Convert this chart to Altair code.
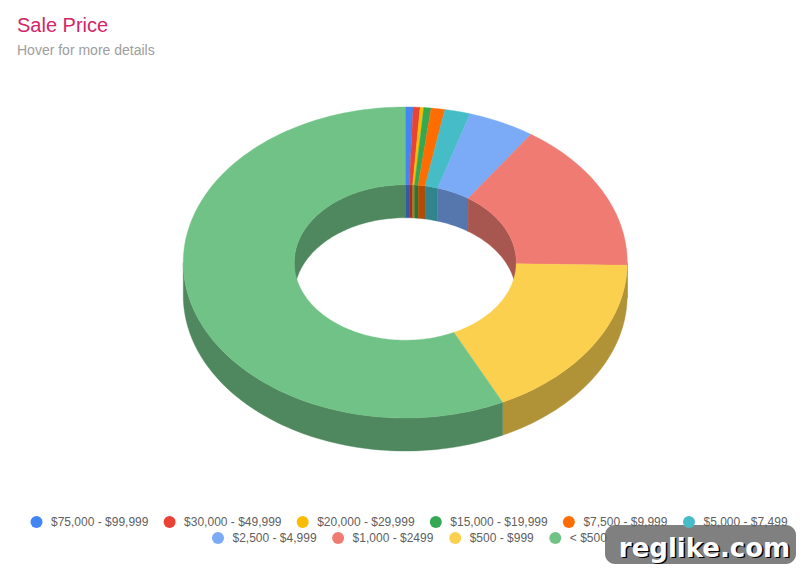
""" Sale Price 3D donut, drawn as geoshapes because arcs can only be circular """

import math

import altair as alt
import pandas as pd

CATEGORIES = [
    "$75,000 - $99,999", "$30,000 - $49,999", "$20,000 - $29,999",
    "$15,000 - $19,999", "$7,500 - $9,999", "$5,000 - $7,499",
    "$2,500 - $4,999", "$1,000 - $2499", "$500 - $999", "< $500",
]
SHARES = [0.57, 0.50, 0.26, 0.53, 1.00, 1.86, 4.86, 15.70, 17.50, 57.22]
COLORS = [
    "#4285F4", "#EA4335", "#FBBC04", "#34A853", "#FF6D01",
    "#46BDC6", "#7BAAF7", "#F07B72", "#FCD04F", "#71C287",
]
ROW_SPLIT = 6
WATERMARK = ["reglike.com"]

WIDTH = 788
HEIGHT = 496
TOP = 60
CX, CY = 397.25, 194.5
RX, RY = 222, 155.5
HOLE = 0.5
DEPTH = 33


def shade(color, factor=0.7):
    channels = [int(color[i:i + 2], 16) for i in (1, 3, 5)]
    return "#" + "".join(f"{round(c * factor):02x}" for c in channels)


def rim(start, end, radius, drop=0):
    # Points along an ellipse, clockwise from the top, in degrees
    steps = max(2, int((end - start) / 1.5) + 1)
    points = []
    for i in range(steps + 1):
        angle = math.radians(start + (end - start) * i / steps)
        points.append([
            CX + RX * radius * math.sin(angle),
            CY - RY * radius * math.cos(angle) + drop,
        ])
    return points


def feature(name, ring):
    return {
        "type": "Feature",
        "properties": {"name": name},
        "geometry": {"type": "Polygon", "coordinates": [ring + ring[:1]]},
    }


def band(name, start, end, radius_a, drop_a, radius_b, drop_b):
    return feature(name, rim(start, end, radius_a, drop_a) + rim(start, end, radius_b, drop_b)[::-1])


tops, walls = [], []
start = 0
for name, share in zip(CATEGORIES, SHARES):
    end = start + share * 3.6
    tops.append(band(name, start, end, 1, 0, HOLE, 0))
    # outer wall shows on the lower half, inner wall on the upper half
    if max(start, 90) < min(end, 270):
        walls.append(band(name, max(start, 90), min(end, 270), 1, 0, 1, DEPTH))
    if start < 90:
        walls.append(band(name, start, min(end, 90), HOLE, 0, HOLE, DEPTH))
    if end > 270:
        walls.append(band(name, max(start, 270), end, HOLE, 0, HOLE, DEPTH))
    start = end

PROJECTION = {"type": "identity", "scale": 1, "translate": [0, 0]}
wall_scale = alt.Scale(domain=CATEGORIES, range=[shade(c) for c in COLORS])

wall_layer = (
    alt.Chart(alt.Data(values=walls))
    .mark_geoshape(strokeWidth=0.4)
    .encode(
        color=alt.Color("properties.name:N", scale=wall_scale, legend=None),
        stroke=alt.Stroke("properties.name:N", scale=wall_scale, legend=None),
    )
    .project(**PROJECTION)
)


def top_layer(names, colors, legend_x, legend_y):
    features = [f for f in tops if f["properties"]["name"] in names]
    scale = alt.Scale(domain=names, range=colors)
    return (
        alt.Chart(alt.Data(values=features))
        .mark_geoshape(strokeWidth=0.4)
        .encode(
            color=alt.Color(
                "properties.name:N",
                scale=scale,
                legend=alt.Legend(
                    title=None,
                    orient="none",
                    legendX=legend_x,
                    legendY=legend_y,
                    direction="horizontal",
                    columns=len(names),
                    symbolType="circle",
                    symbolSize=144,
                    symbolStrokeWidth=0,
                    symbolOpacity=1,
                    labelFont="Liberation Sans",
                    labelFontSize=12,
                    labelColor="#5f5f5f",
                    labelOffset=8.5,
                    columnPadding=15.1,
                    labelLimit=200,
                ),
            ),
            stroke=alt.Stroke("properties.name:N", scale=scale, legend=None),
        )
        .project(**PROJECTION)
    )


row_one = top_layer(CATEGORIES[:ROW_SPLIT], COLORS[:ROW_SPLIT], 22.5, 448)
row_two = top_layer(CATEGORIES[ROW_SPLIT:], COLORS[ROW_SPLIT:], 204, 464)

badge_data = pd.DataFrame({"label": WATERMARK})
badge = (
    alt.Chart(badge_data)
    .mark_rect(color="#808080", cornerRadius=10)
    .encode(x=alt.value(597), x2=alt.value(788), y=alt.value(457), y2=alt.value(496))
)
badge_shadow = (
    alt.Chart(badge_data)
    .mark_text(font="DejaVu Sans", fontWeight="bold", fontSize=26, color="#000000", align="center")
    .encode(x=alt.value(698), y=alt.value(482), text="label:N")
)
badge_text = (
    alt.Chart(badge_data)
    .mark_text(font="DejaVu Sans", fontWeight="bold", fontSize=26, color="#ffffff", align="center")
    .encode(x=alt.value(696.5), y=alt.value(481), text="label:N")
)

chart = (
    alt.layer(wall_layer, row_one, row_two, badge, badge_shadow, badge_text)
    .resolve_scale(color="independent", stroke="independent")
    .properties(
        width=WIDTH,
        height=HEIGHT,
        padding={"left": 0, "right": 0, "top": TOP, "bottom": 0},
        autosize=alt.AutoSizeParams(type="none"),
        title=alt.Title(
            "Sale Price",
            subtitle="Hover for more details",
            anchor="start",
            frame="group",
            dx=9,
            offset=10,
            font="Liberation Sans",
            fontSize=20,
            fontWeight="normal",
            color="#d0266a",
            subtitleFont="Liberation Sans",
            subtitleFontSize=14,
            subtitleColor="#9e9e9e",
            subtitlePadding=8,
        ),
    )
    .configure_view(stroke=None)
)

chart.save("out.html", embed_options={"renderer": "svg", "actions": False})
